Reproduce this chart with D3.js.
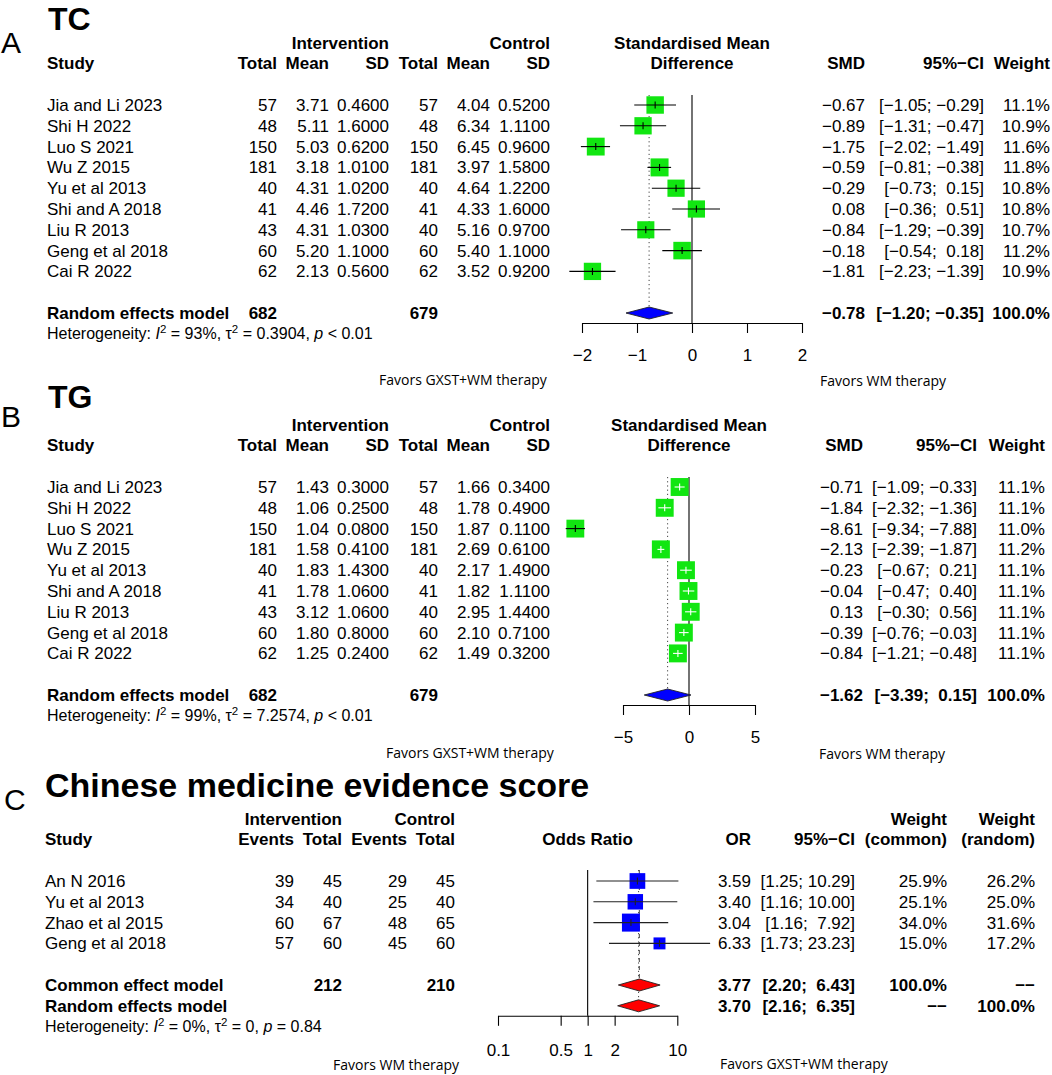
<!DOCTYPE html>
<html><head><meta charset="utf-8">
<script src="https://cdn.jsdelivr.net/npm/d3@7"></script>
<style>
body{margin:0;background:#fff}
svg text{font-family:"Liberation Sans",Arial,Helvetica,sans-serif;white-space:pre;fill:#000}
</style></head><body>
<script>
// ---------- DATA ----------
const studiesAB = ["Jia and Li 2023","Shi H 2022","Luo S 2021","Wu Z 2015","Yu et al 2013","Shi and A 2018","Liu R 2013","Geng et al 2018","Cai R 2022"];
// Panel A: TC
const tcIntTotal  = [57,48,150,181,40,41,43,60,62];
const tcIntMean   = [3.71,5.11,5.03,3.18,4.31,4.46,4.31,5.20,2.13];
const tcIntSD     = [0.46,1.60,0.62,1.01,1.02,1.72,1.03,1.10,0.56];
const tcCtrlTotal = [57,48,150,181,40,41,40,60,62];
const tcCtrlMean  = [4.04,6.34,6.45,3.97,4.64,4.33,5.16,5.40,3.52];
const tcCtrlSD    = [0.52,1.11,0.96,1.58,1.22,1.60,0.97,1.10,0.92];
const tcSMD       = [-0.67,-0.89,-1.75,-0.59,-0.29,0.08,-0.84,-0.18,-1.81];
const tcLower     = [-1.05,-1.31,-2.02,-0.81,-0.73,-0.36,-1.29,-0.54,-2.23];
const tcUpper     = [-0.29,-0.47,-1.49,-0.38,0.15,0.51,-0.39,0.18,-1.39];
const tcWeight    = [11.1,10.9,11.6,11.8,10.8,10.8,10.7,11.2,10.9];
const tcPooled    = [-0.78,-1.20,-0.35];
const tcHet       = ["93%","0.3904","< 0.01"];
const tcTicks     = [-2,-1,0,1,2];
// Panel B: TG
const tgIntTotal  = [57,48,150,181,40,41,43,60,62];
const tgIntMean   = [1.43,1.06,1.04,1.58,1.83,1.78,3.12,1.80,1.25];
const tgIntSD     = [0.30,0.25,0.08,0.41,1.43,1.06,1.06,0.80,0.24];
const tgCtrlTotal = [57,48,150,181,40,41,40,60,62];
const tgCtrlMean  = [1.66,1.78,1.87,2.69,2.17,1.82,2.95,2.10,1.49];
const tgCtrlSD    = [0.34,0.49,0.11,0.61,1.49,1.11,1.44,0.71,0.32];
const tgSMD       = [-0.71,-1.84,-8.61,-2.13,-0.23,-0.04,0.13,-0.39,-0.84];
const tgLower     = [-1.09,-2.32,-9.34,-2.39,-0.67,-0.47,-0.30,-0.76,-1.21];
const tgUpper     = [-0.33,-1.36,-7.88,-1.87,0.21,0.40,0.56,-0.03,-0.48];
const tgWeight    = [11.1,11.1,11.0,11.2,11.1,11.1,11.1,11.1,11.1];
const tgPooled    = [-1.62,-3.39,0.15];
const tgHet       = ["99%","7.2574","< 0.01"];
const tgTicks     = [-5,0,5];
// Panel C: Chinese medicine evidence score
const cStudies    = ["An N 2016","Yu et al 2013","Zhao et al 2015","Geng et al 2018"];
const cIntEvents  = [39,34,60,57];
const cIntTotal   = [45,40,67,60];
const cCtrlEvents = [29,25,48,45];
const cCtrlTotal  = [45,40,65,60];
const cOR         = [3.59,3.40,3.04,6.33];
const cLower      = [1.25,1.16,1.16,1.73];
const cUpper      = [10.29,10.00,7.92,23.23];
const cWCommon    = [25.9,25.1,34.0,15.0];
const cWRandom    = [26.2,25.0,31.6,17.2];
const cCommon     = [3.77,2.20,6.43];
const cRandom     = [3.70,2.16,6.35];
const cHet        = ["0%","0","= 0.84"];
const cTicks      = [0.1,0.5,1,2,10];
const cTickLabels = ["0.1","0.5","1","2","10"];

// ---------- DRAWING ----------
const W=1052,H=1075,FS=17,DY=20.8;
const GREEN="#11e611",BLUE="#0000ff",RED="#ff0000";
const svg=d3.select("body").append("svg").attr("width",W).attr("height",H);
svg.append("rect").attr("width",W).attr("height",H).attr("fill","#fff");

function txt(x,y,s,o={}){
  const t=svg.append("text").attr("x",x).attr("y",y)
    .attr("font-size",o.size||FS).attr("text-anchor",o.anchor||"start").text(s);
  if(!o.base) t.attr("dy","0.35em");
  if(o.bold) t.attr("font-weight","bold");
  if(o.font) t.style("font-family",o.font);
  return t;
}
const f1=d3.format(".1f"),f2=d3.format(".2f"),f4=d3.format(".4f");
const padL=(s,n)=>{while(s.length<n)s=" "+s;return s;};
function ciStrings(los,his){
  const wl=d3.max(los,v=>f2(v).length), wh=d3.max(his,v=>f2(v).length);
  return (lo,hi)=>"["+padL(f2(lo),wl)+"; "+padL(f2(hi),wh)+"]";
}
function het(x,y,vals){
  const t=svg.append("text").attr("x",x).attr("y",y).attr("dy","0.35em").attr("font-size",16);
  t.append("tspan").text("Heterogeneity: ");
  t.append("tspan").attr("font-style","italic").text("I");
  t.append("tspan").attr("font-size",11.5).attr("dy",-6).text("2");
  t.append("tspan").attr("dy",6).text(" = "+vals[0]+", \u03C4");
  t.append("tspan").attr("font-size",11.5).attr("dy",-6).text("2");
  t.append("tspan").attr("dy",6).text(" = "+vals[1]+", ");
  t.append("tspan").attr("font-style","italic").text("p");
  t.append("tspan").text(" "+vals[2]);
}
function axis(scale,ticks,y,labels,pad){
  const a=d3.axisBottom(scale).tickValues(ticks).tickSize(10).tickSizeOuter(0).tickPadding(pad);
  if(labels) a.tickFormat((d,i)=>labels[i]); else a.tickFormat(d3.format("~g"));
  const g=svg.append("g").attr("transform",`translate(0,${y})`).call(a);
  g.attr("font-size",FS).attr("font-family",null);
  g.selectAll("path,line").attr("stroke","#000").attr("stroke-width",1.1);
}
function square(cx,cy,s,lo,hi,col,lineCol){
  svg.append("rect").attr("x",cx-s/2).attr("y",cy-s/2).attr("width",s).attr("height",s).attr("fill",col);
  const inside = lo>=cx-s/2 && hi<=cx+s/2;
  const lc = inside?"#fff":lineCol;
  svg.append("line").attr("x1",lo).attr("x2",hi).attr("y1",cy).attr("y2",cy).attr("stroke",lc).attr("stroke-width",1.1);
  svg.append("line").attr("x1",cx).attr("x2",cx).attr("y1",cy-3.5).attr("y2",cy+3.5).attr("stroke",lc).attr("stroke-width",1.1);
}
function diamond(x,lo,est,hi,cy,fill){
  const h=6;
  svg.append("path").attr("d",`M${x(lo)},${cy}L${x(est)},${cy-h}L${x(hi)},${cy}L${x(est)},${cy+h}Z`)
    .attr("fill",fill).attr("stroke","#222").attr("stroke-width",0.9);
}

function contPanel(P){
  const y=i=>P.row0+i*DY;
  const x=d3.scaleLinear().domain(P.domain).range(P.range);
  const c=P.cols, rc=P.rc;
  txt(1,P.letterY,P.letter,{size:30,base:true});
  txt(48,P.titleY,P.title,{size:32,bold:true,base:true});
  txt(c[2],y(-3),"Intervention",{bold:true,anchor:"end"});
  txt(c[5],y(-3),"Control",{bold:true,anchor:"end"});
  txt(x(0),y(-3),"Standardised Mean",{bold:true,anchor:"middle"});
  txt(P.x0,y(-2),"Study",{bold:true});
  ["Total","Mean","SD","Total","Mean","SD"].forEach((h,j)=>txt(c[j],y(-2),h,{bold:true,anchor:"end"}));
  txt(x(0),y(-2),"Difference",{bold:true,anchor:"middle"});
  txt(rc[0],y(-2),"SMD",{bold:true,anchor:"end"});
  txt(rc[1],y(-2),"95%\u2212CI",{bold:true,anchor:"end"});
  txt(rc[2],y(-2),"Weight",{bold:true,anchor:"end"});
  const ci=ciStrings(P.lo.concat([P.pooled[1]]),P.hi.concat([P.pooled[2]]));
  const sz=d3.scaleSqrt().domain([0,d3.max(P.w)]).range([0,18]);
  const axisY=y(10)+10;
  svg.append("line").attr("x1",x(0)).attr("x2",x(0)).attr("y1",y(0)-10).attr("y2",axisY).attr("stroke","#000").attr("stroke-width",1.1);
  svg.append("line").attr("x1",x(P.pooled[0])).attr("x2",x(P.pooled[0])).attr("y1",y(0)-10).attr("y2",y(10)-6)
    .attr("stroke","#444").attr("stroke-width",1).attr("stroke-dasharray","1.2,3");
  P.names.forEach((nm,i)=>{
    const yy=y(i);
    txt(P.x0,yy,nm);
    txt(c[0],yy,String(P.ne[i]),{anchor:"end"});
    txt(c[1],yy,f2(P.me[i]),{anchor:"end"});
    txt(c[2],yy,f4(P.se[i]),{anchor:"end"});
    txt(c[3],yy,String(P.nc[i]),{anchor:"end"});
    txt(c[4],yy,f2(P.mc[i]),{anchor:"end"});
    txt(c[5],yy,f4(P.sc[i]),{anchor:"end"});
    txt(rc[0],yy,f2(P.est[i]),{anchor:"end"});
    txt(rc[1],yy,ci(P.lo[i],P.hi[i]),{anchor:"end"});
    txt(rc[2],yy,f1(P.w[i])+"%",{anchor:"end"});
    square(x(P.est[i]),yy,sz(P.w[i]),x(P.lo[i]),x(P.hi[i]),GREEN,"#000");
  });
  const ys=y(10);
  txt(P.x0,ys,"Random effects model",{bold:true});
  txt(c[0],ys,String(d3.sum(P.ne)),{bold:true,anchor:"end"});
  txt(c[3],ys,String(d3.sum(P.nc)),{bold:true,anchor:"end"});
  txt(rc[0],ys,f2(P.pooled[0]),{bold:true,anchor:"end"});
  txt(rc[1],ys,ci(P.pooled[1],P.pooled[2]),{bold:true,anchor:"end"});
  txt(rc[2],ys,"100.0%",{bold:true,anchor:"end"});
  diamond(x,P.pooled[1],P.pooled[0],P.pooled[2],ys,BLUE);
  het(P.x0,y(11),P.het);
  axis(x,P.ticks,axisY,null,16);
  txt(P.favL,P.favY,"Favors GXST+WM therapy",{size:14,font:"'Open Sans',sans-serif"});
  txt(P.favR,P.favY+1,"Favors WM therapy",{size:14,font:"'Open Sans',sans-serif"});
}

contPanel({letter:"A",letterY:53,title:"TC",titleY:30,row0:105,x0:47,
  cols:[277,329,389,438,490,550],rc:[865,984,1050],domain:[-2,2],range:[582,802],ticks:tcTicks,
  names:studiesAB,ne:tcIntTotal,me:tcIntMean,se:tcIntSD,nc:tcCtrlTotal,mc:tcCtrlMean,sc:tcCtrlSD,
  est:tcSMD,lo:tcLower,hi:tcUpper,w:tcWeight,pooled:tcPooled,het:tcHet,favL:379,favR:820,favY:380});
contPanel({letter:"B",letterY:427,title:"TG",titleY:408,row0:487,x0:47,
  cols:[277,329,389,438,490,550],rc:[863,977,1045],domain:[-5,5],range:[623,755],ticks:tgTicks,
  names:studiesAB,ne:tgIntTotal,me:tgIntMean,se:tgIntSD,nc:tgCtrlTotal,mc:tgCtrlMean,sc:tgCtrlSD,
  est:tgSMD,lo:tgLower,hi:tgUpper,w:tgWeight,pooled:tgPooled,het:tgHet,favL:386,favR:819,favY:753});

// Panel C
(function(){
  const row0=881, y=i=>row0+i*DY, x0=45;
  const x=d3.scaleLog().domain([0.1,10]).range([498,677.3]);
  const c=[294,342,407,455], rc=[751,855,947,1035];
  txt(4,810,"C",{size:30,base:true});
  txt(45,797,"Chinese medicine evidence score",{size:34,bold:true,base:true});
  txt(c[1],y(-3),"Intervention",{bold:true,anchor:"end"});
  txt(c[3],y(-3),"Control",{bold:true,anchor:"end"});
  txt(rc[2],y(-3),"Weight",{bold:true,anchor:"end"});
  txt(rc[3],y(-3),"Weight",{bold:true,anchor:"end"});
  txt(x0,y(-2),"Study",{bold:true});
  ["Events","Total","Events","Total"].forEach((h,j)=>txt(c[j],y(-2),h,{bold:true,anchor:"end"}));
  txt(x(1),y(-2),"Odds Ratio",{bold:true,anchor:"middle"});
  txt(rc[0],y(-2),"OR",{bold:true,anchor:"end"});
  txt(rc[1],y(-2),"95%\u2212CI",{bold:true,anchor:"end"});
  txt(rc[2],y(-2),"(common)",{bold:true,anchor:"end"});
  txt(rc[3],y(-2),"(random)",{bold:true,anchor:"end"});
  const ci=ciStrings(cLower.concat([cCommon[1],cRandom[1]]),cUpper.concat([cCommon[2],cRandom[2]]));
  const sz=d3.scaleSqrt().domain([0,d3.max(cWCommon)]).range([0,18]);
  const axisY=y(6)+10;
  svg.append("line").attr("x1",x(1)).attr("x2",x(1)).attr("y1",y(0)-11).attr("y2",axisY).attr("stroke","#000").attr("stroke-width",1.1);
  svg.append("line").attr("x1",x(cCommon[0])).attr("x2",x(cCommon[0])).attr("y1",y(0)-11).attr("y2",y(5)-6)
    .attr("stroke","#444").attr("stroke-width",1).attr("stroke-dasharray","4,4");
  svg.append("line").attr("x1",x(cRandom[0])).attr("x2",x(cRandom[0])).attr("y1",y(0)-11).attr("y2",y(6)-6)
    .attr("stroke","#444").attr("stroke-width",1).attr("stroke-dasharray","1.2,3");
  cStudies.forEach((nm,i)=>{
    const yy=y(i);
    txt(x0,yy,nm);
    txt(c[0],yy,String(cIntEvents[i]),{anchor:"end"});
    txt(c[1],yy,String(cIntTotal[i]),{anchor:"end"});
    txt(c[2],yy,String(cCtrlEvents[i]),{anchor:"end"});
    txt(c[3],yy,String(cCtrlTotal[i]),{anchor:"end"});
    txt(rc[0],yy,f2(cOR[i]),{anchor:"end"});
    txt(rc[1],yy,ci(cLower[i],cUpper[i]),{anchor:"end"});
    txt(rc[2],yy,f1(cWCommon[i])+"%",{anchor:"end"});
    txt(rc[3],yy,f1(cWRandom[i])+"%",{anchor:"end"});
    square(x(cOR[i]),yy,sz(cWCommon[i]),x(cLower[i]),x(cUpper[i]),BLUE,"#222");
  });
  const yc=y(5), yr=y(6);
  txt(x0,yc,"Common effect model",{bold:true});
  txt(c[1],yc,String(d3.sum(cIntTotal)),{bold:true,anchor:"end"});
  txt(c[3],yc,String(d3.sum(cCtrlTotal)),{bold:true,anchor:"end"});
  txt(rc[0],yc,f2(cCommon[0]),{bold:true,anchor:"end"});
  txt(rc[1],yc,ci(cCommon[1],cCommon[2]),{bold:true,anchor:"end"});
  txt(rc[2],yc,"100.0%",{bold:true,anchor:"end"});
  txt(rc[3],yc,"\u2212\u2212",{bold:true,anchor:"end"});
  txt(x0,yr,"Random effects model",{bold:true});
  txt(rc[0],yr,f2(cRandom[0]),{bold:true,anchor:"end"});
  txt(rc[1],yr,ci(cRandom[1],cRandom[2]),{bold:true,anchor:"end"});
  txt(rc[2],yr,"\u2212\u2212",{bold:true,anchor:"end"});
  txt(rc[3],yr,"100.0%",{bold:true,anchor:"end"});
  diamond(x,cCommon[1],cCommon[0],cCommon[2],yc,RED);
  diamond(x,cRandom[1],cRandom[0],cRandom[2],yr,RED);
  het(x0,y(7),cHet);
  axis(x,cTicks,axisY,cTickLabels,18);
  txt(333,1065,"Favors WM therapy",{size:14,font:"'Open Sans',sans-serif"});
  txt(720,1064,"Favors GXST+WM therapy",{size:14,font:"'Open Sans',sans-serif"});
})();
</script></body></html>
